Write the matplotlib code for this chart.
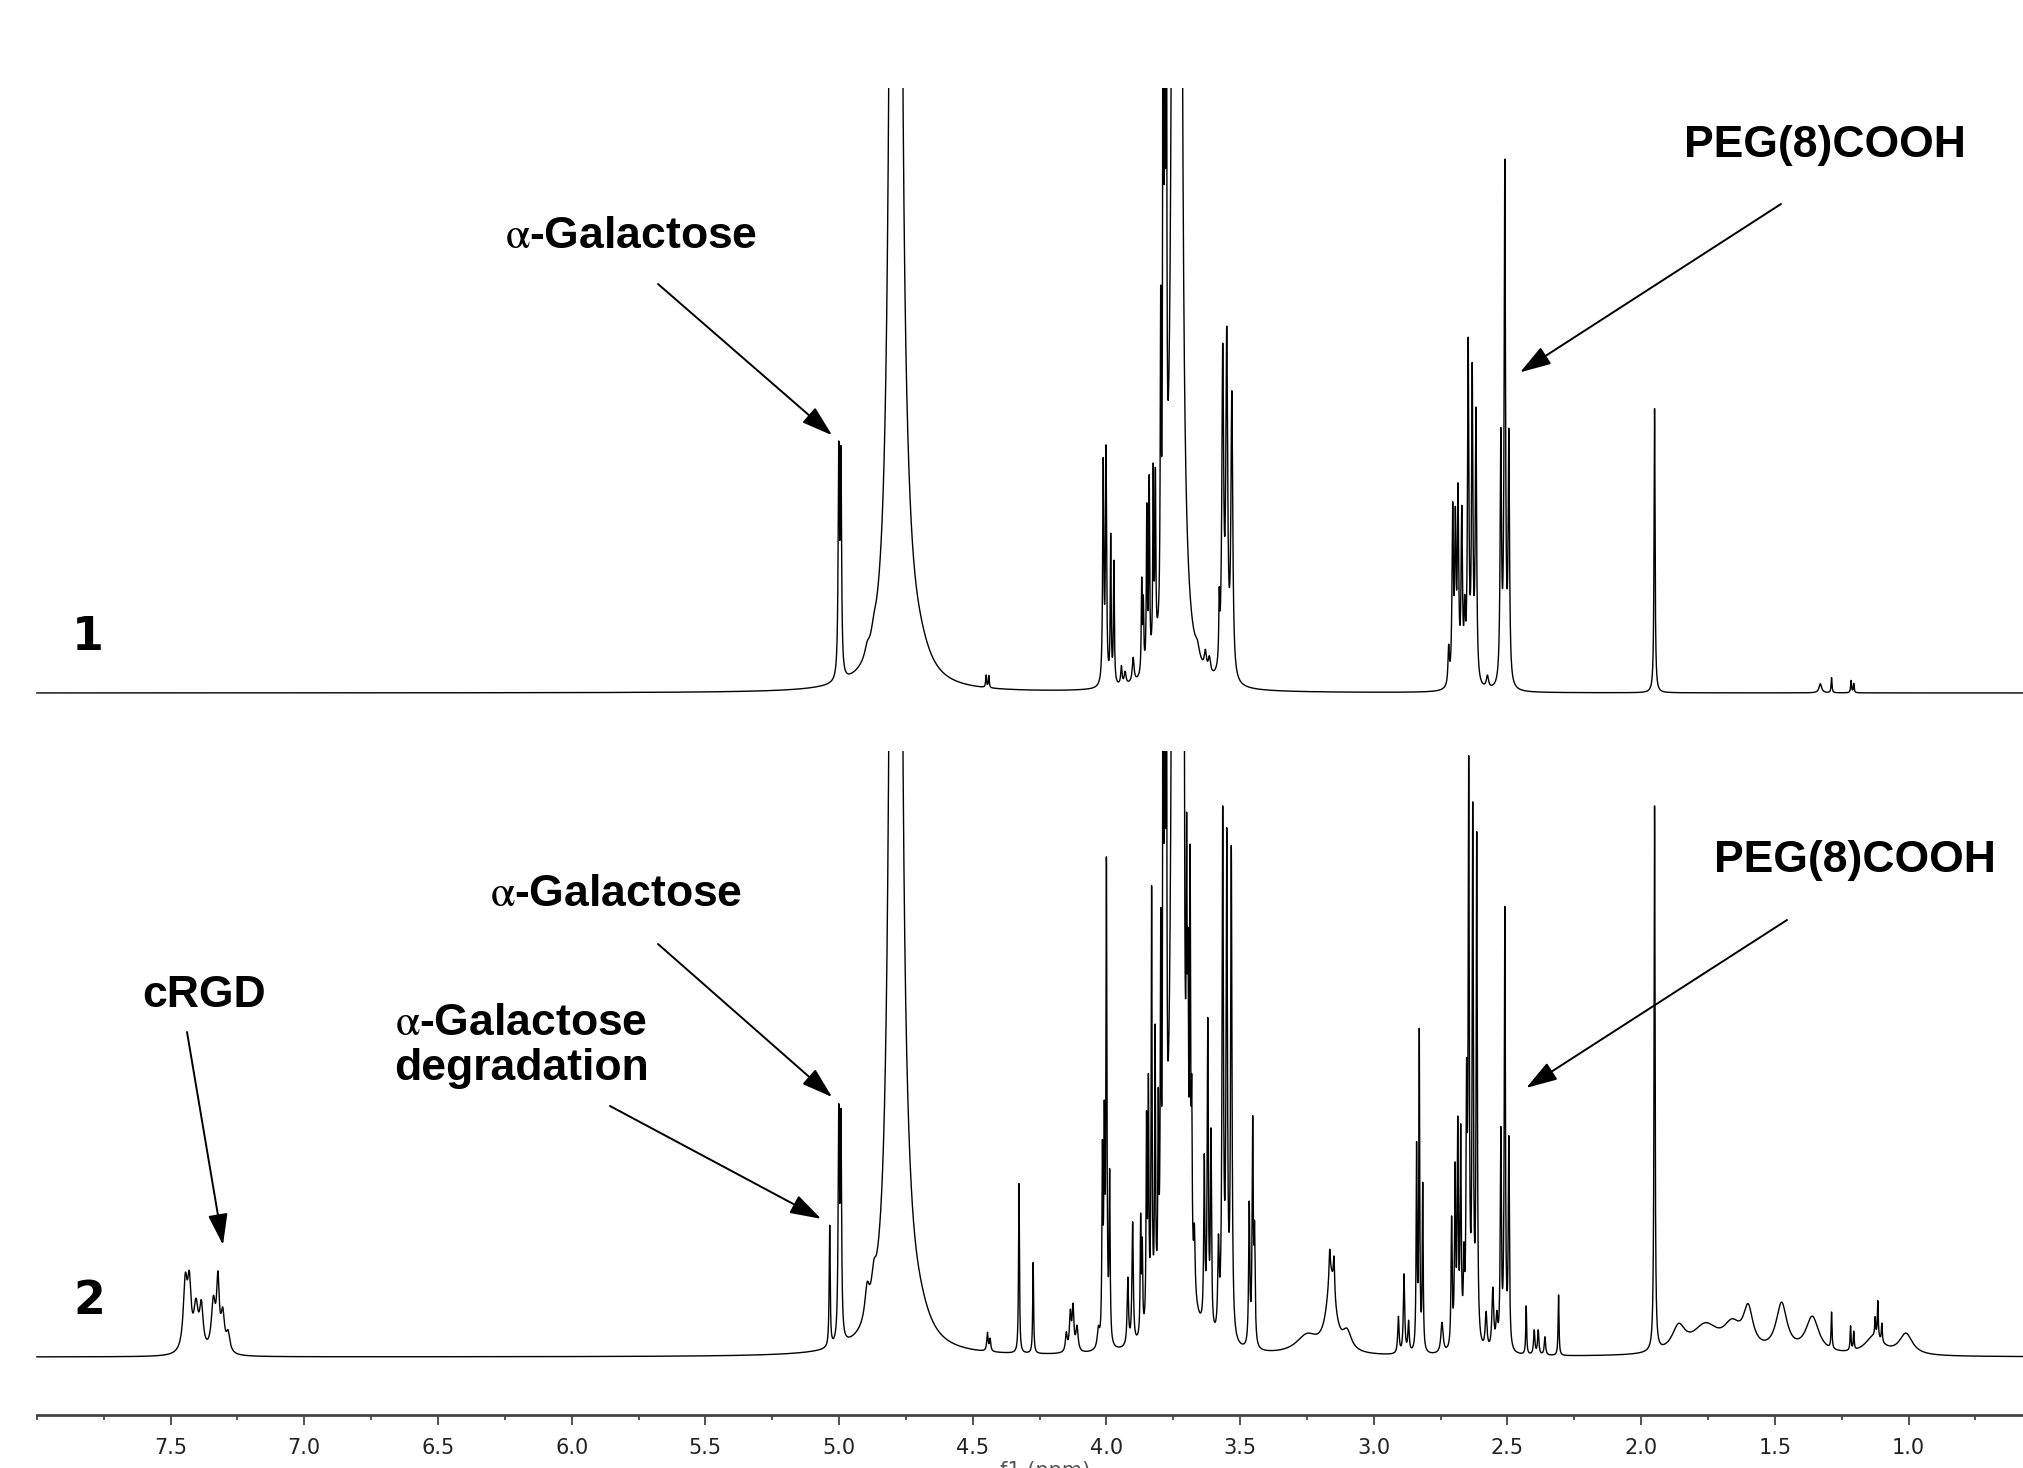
import numpy as np
import matplotlib
matplotlib.use("Agg")
import matplotlib.pyplot as plt
from matplotlib.ticker import MultipleLocator, FixedLocator

# peak lists: position (ppm), height, half width (ppm)
# height 100 = the level where the plot cuts the tall peaks off

# spectrum 1
ppm_1 = [5.001, 4.993, 4.895, 4.870, 4.788, 4.750, 4.700, 4.450, 4.440,
         4.012, 4.0015, 3.984, 3.972, 3.944, 3.930, 3.900, 3.868, 3.862,
         3.849, 3.840, 3.825, 3.817, 3.797, 3.788, 3.782, 3.776,
         3.745, 3.736, 3.728, 3.660, 3.630, 3.615,
         3.578, 3.565, 3.550, 3.531,
         2.720, 2.705, 2.695, 2.685, 2.671, 2.660, 2.647, 2.632, 2.618, 2.575,
         2.525, 2.510, 2.495,
         1.950, 1.330, 1.288, 1.215, 1.205]
height_1 = [36, 35, 1.5, 1.5, 1700, 7, 3, 2, 2,
            36, 38, 24, 20, 3, 2, 4, 15, 11,
            26, 30, 30, 28, 50, 160, 150, 150,
            400, 200, 400, 2, 3, 2.5,
            10, 52, 54, 46,
            6, 28, 25, 30, 27, 10, 55, 50, 44, 2,
            40, 85, 40,
            47, 1.5, 2.5, 2, 1.5]
width_1 = [0.0028, 0.0028, 0.01, 0.01, 0.0065, 0.03, 0.05, 0.002, 0.002,
           0.0025, 0.0025, 0.002, 0.002, 0.003, 0.004, 0.004, 0.002, 0.002,
           0.002, 0.002, 0.002, 0.002, 0.002, 0.0015, 0.0015, 0.0015,
           0.006, 0.006, 0.006, 0.01, 0.005, 0.005,
           0.002, 0.004, 0.004, 0.004,
           0.003, 0.003, 0.003, 0.003, 0.003, 0.003, 0.003, 0.003, 0.003, 0.005,
           0.003, 0.003, 0.003,
           0.0022, 0.006, 0.002, 0.002, 0.002]

# spectrum 2
ppm_2 = [7.445, 7.430, 7.405, 7.385, 7.340, 7.323, 7.305, 7.285,
         5.035, 5.001, 4.993, 4.895, 4.870, 4.788, 4.750, 4.700,
         4.445, 4.435, 4.327, 4.274, 4.150, 4.135, 4.125, 4.110, 4.030,
         4.015, 4.008, 4.000, 3.988, 3.920, 3.902, 3.872, 3.866,
         3.850, 3.843, 3.831, 3.818, 3.806, 3.797, 3.788, 3.782, 3.776,
         3.745, 3.736, 3.728, 3.710, 3.700, 3.695, 3.687, 3.681, 3.671,
         3.634, 3.621, 3.609, 3.581, 3.565, 3.550, 3.533,
         3.466, 3.453, 3.446, 3.250, 3.160, 3.165, 3.149, 3.100,
         2.908, 2.887, 2.870, 2.840, 2.830, 2.817,
         2.745, 2.709, 2.696, 2.686, 2.675, 2.663, 2.653, 2.645, 2.630, 2.615,
         2.580, 2.555, 2.540, 2.525, 2.510, 2.495,
         2.430, 2.400, 2.385, 2.360, 2.309,
         1.950, 1.860, 1.760, 1.660, 1.600, 1.475, 1.360, 1.288, 1.217, 1.205,
         1.130, 1.125, 1.115, 1.100, 1.010]
height_2 = [11, 10, 7, 7, 8, 11, 6, 3,
            20, 36, 35, 5, 4, 1700, 7, 3,
            3, 2, 28, 15, 3, 6, 7, 4, 3,
            30, 33, 78, 27, 11, 20, 19, 14,
            33, 38, 70, 45, 30, 55, 160, 150, 150,
            400, 200, 400, 70, 50, 35, 62, 25, 10,
            27, 50, 32, 14, 85, 80, 80,
            23, 36, 17, 3, 12, 5, 6, 3,
            6, 13, 5, 33, 52, 27,
            5, 21, 28, 35, 34, 12, 38, 92, 86, 83,
            6, 10, 5, 35, 72, 34,
            8, 4, 4, 3, 10,
            90, 4, 4.5, 4, 6.5, 8, 6, 6, 4, 3,
            3, 3, 6, 3, 3.5]
width_2 = [0.009, 0.008, 0.01, 0.008, 0.009, 0.006, 0.008, 0.008,
           0.0022, 0.0028, 0.0028, 0.01, 0.01, 0.0065, 0.03, 0.05,
           0.003, 0.003, 0.002, 0.002, 0.004, 0.004, 0.004, 0.005, 0.005,
           0.0022, 0.0022, 0.0022, 0.0022, 0.003, 0.003, 0.002, 0.002,
           0.002, 0.002, 0.002, 0.002, 0.002, 0.002, 0.0015, 0.0015, 0.0015,
           0.006, 0.006, 0.006, 0.002, 0.002, 0.002, 0.002, 0.002, 0.003,
           0.0025, 0.0025, 0.0025, 0.003, 0.003, 0.003, 0.003,
           0.0025, 0.0025, 0.0025, 0.05, 0.02, 0.003, 0.003, 0.02,
           0.003, 0.003, 0.003, 0.002, 0.002, 0.002,
           0.005, 0.0025, 0.0025, 0.0025, 0.0025, 0.0025, 0.0025, 0.0025, 0.0025, 0.0025,
           0.004, 0.004, 0.004, 0.0025, 0.0025, 0.0025,
           0.002, 0.003, 0.003, 0.003, 0.002,
           0.0022, 0.03, 0.06, 0.04, 0.022, 0.025, 0.03, 0.002, 0.002, 0.002,
           0.04, 0.002, 0.002, 0.002, 0.03]

major_ticks = [7.5, 7.0, 6.5, 6.0, 5.5, 5.0, 4.5, 4.0, 3.5, 3.0, 2.5, 2.0, 1.5, 1.0]

# figure size in pixels
W = 2023
H = 1468


def spectrum(x, ppm, height, width):
    # sum of lorentzian lines
    c = np.array(ppm)[:, None]
    h = np.array(height)[:, None]
    g = np.array(width)[:, None]
    return np.sum(h / (1 + ((x[None, :] - c) / g) ** 2), axis=0)


def fy(py):
    # picture rows count from the top, figure pixels from the bottom
    return H - py


def make_axes(fig, top, bottom, base):
    # top/bottom/base are pixel rows of the picture
    ax = fig.add_axes([0, 1 - bottom / H, 1, (bottom - top) / H])
    ax.set_facecolor("none")
    ax.set_xlim(8.138, 0.572)
    ax.set_ylim(-(bottom - base) / (base - top) * 100, 100)
    for s in ax.spines.values():
        s.set_visible(False)
    ax.set_yticks([])
    return ax


def arrow(ax, tip, tail):
    ax.annotate("", xy=tip, xycoords="data",
                xytext=(tail[0], fy(tail[1])), textcoords="figure pixels",
                arrowprops=dict(arrowstyle="-|>,head_length=1.2,head_width=0.38",
                                mutation_scale=16, lw=1.4, color="black",
                                shrinkA=0, shrinkB=0),
                annotation_clip=False)


def label(fig, text, x, y, size=32):
    fig.text(x / W, fy(y) / H, text, ha="center", va="baseline",
             fontsize=size, fontweight="bold",
             family=["Liberation Sans", "DejaVu Sans"])


def main():
    plt.rcParams["mathtext.fontset"] = "stix"
    fig = plt.figure(figsize=(W / 100, H / 100), dpi=100)

    x = np.linspace(8.0, 0.572, 30000)
    y1 = spectrum(x, ppm_1, height_1, width_1)
    y2 = spectrum(x, ppm_2, height_2, width_2)

    ax1 = make_axes(fig, 88, 740, 693)
    ax1.plot(x, y1, color="black", lw=1.0)
    ax1.set_xticks([])

    ax2 = make_axes(fig, 751, 1415, 1357)
    ax2.plot(x, y2, color="black", lw=1.0)

    # only the ppm axis at the bottom
    ax2.spines["bottom"].set_visible(True)
    ax2.spines["bottom"].set_bounds(8.0, 0.572)
    ax2.spines["bottom"].set_color("#444444")
    ax2.spines["bottom"].set_linewidth(2.0)
    ax2.xaxis.set_major_locator(FixedLocator(major_ticks))
    ax2.xaxis.set_minor_locator(MultipleLocator(0.25))
    ax2.tick_params(axis="x", which="major", length=7.5, width=1.3,
                    color="#444444", pad=9, labelsize=15, labelcolor="#222222")
    ax2.tick_params(axis="x", which="minor", length=3.8, width=1.3,
                    color="#444444")
    ax2.set_xticklabels(["%.1f" % v for v in major_ticks])
    for t in ax2.get_xticklabels():
        t.set_family(["Liberation Sans Narrow", "DejaVu Sans"])
    fig.text(1045 / W, fy(1461) / H, "f1 (ppm)", ha="center", va="top",
             fontsize=15, color="#555555",
             family=["Liberation Sans Narrow", "DejaVu Sans"])

    # spectrum numbers
    fig.text(88 / W, fy(637) / H, "1", ha="center", va="center",
             fontsize=33, fontweight="bold", family="DejaVu Sans")
    fig.text(89 / W, fy(1302) / H, "2", ha="center", va="center",
             fontsize=33, fontweight="bold", family="DejaVu Sans")

    alpha_gal = r"$\mathrm{\alpha}$-Galactose"

    # labels and arrows, spectrum 1
    label(fig, alpha_gal, 631, 248)
    arrow(ax1, (5.026, 42.6), (658, 284))
    label(fig, "PEG(8)COOH", 1825, 157)
    arrow(ax1, (2.453, 53), (1781, 204))

    # labels and arrows, spectrum 2
    label(fig, alpha_gal, 616, 906)
    arrow(ax2, (5.026, 42.9), (658, 944))
    label(fig, alpha_gal, 521, 1035)
    label(fig, "degradation", 521, 1080)
    arrow(ax2, (5.067, 22.8), (610, 1106))
    label(fig, "cRGD", 204, 1007)
    arrow(ax2, (7.304, 18.5), (187, 1032))
    label(fig, "PEG(8)COOH", 1855, 872)
    arrow(ax2, (2.430, 44.4), (1787, 920))

    fig.savefig("out.png", dpi=100)


main()
